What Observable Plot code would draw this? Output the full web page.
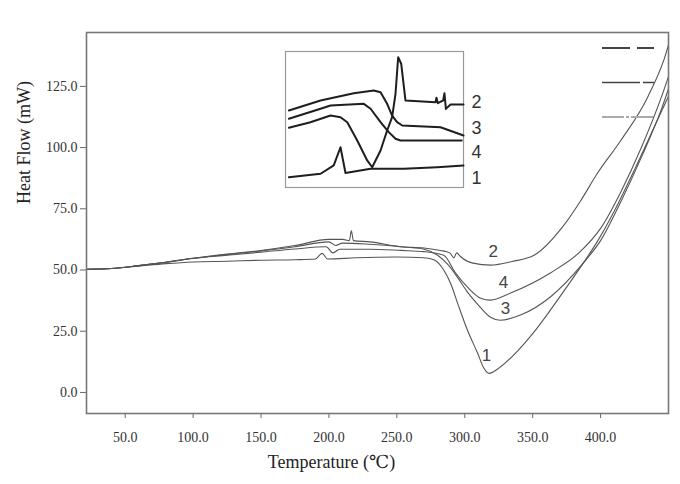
<!DOCTYPE html>
<html>
<head>
<meta charset="utf-8">
<script src="https://cdn.jsdelivr.net/npm/d3@7"></script>
<script src="https://cdn.jsdelivr.net/npm/@observablehq/plot@0.6"></script>
<style>
  body { margin: 0; background: #fff; }
  #wrap { position: relative; width: 680px; height: 484px; }
  #wrap > svg { position: absolute; }
</style>
</head>
<body>
<div id="wrap"></div>
<script>
// ---- Main DSC curves (Temperature °C, Heat Flow mW) ----
const curveNames = ["1", "2", "3", "4"];

const temp1 = [21.5, 40, 60, 80, 100, 125, 150, 175, 190, 195, 199, 220, 250, 270, 278, 284.5, 290, 294.7, 302, 309.5, 314, 318, 324, 339, 350, 363, 375, 387.5, 398, 410, 425, 440, 450];
const heat1 = [50.3, 50.6, 51.6, 52.6, 53.3, 53.6, 54, 54.2, 54.5, 56.8, 54.5, 55, 55.3, 55, 54, 50, 44, 36.5, 25.4, 16, 10, 7.8, 9.5, 17, 24, 33.6, 43, 53, 62, 74, 91, 109, 121];

const temp2 = [21.5, 40, 60, 80, 100, 125, 150, 175, 200, 210, 215, 216.5, 218, 230, 253, 270, 282, 289, 292, 294, 297, 306, 319, 335, 351, 372, 385, 398, 415, 435, 449, 450];
const heat2 = [50.3, 50.6, 51.8, 53.2, 54.8, 56.5, 58, 60, 62.5, 62.5, 62, 66, 62, 61.5, 59.5, 59, 58, 57, 55, 57, 55.4, 52.8, 52, 53.5, 56, 67.6, 78, 89.8, 103, 121, 140, 142];

const temp3 = [21.5, 40, 60, 80, 100, 125, 150, 175, 200, 205, 210, 230, 253, 270, 280, 288, 294.7, 302, 309.5, 319, 326, 341, 363, 387.5, 400, 415, 430, 445, 450];
const heat3 = [50.3, 50.6, 51.8, 53.2, 54.8, 56.3, 57.8, 59.5, 61.5, 60, 61, 60.5, 59.5, 58.5, 56, 52, 47, 41, 36, 30.7, 29.5, 31.6, 39, 53, 62, 78, 96, 116, 124];

const temp4 = [21.5, 40, 60, 80, 100, 125, 150, 175, 198, 203, 208, 230, 253, 270, 284.5, 293, 302, 311.6, 319, 333.7, 363, 385, 400, 415, 430, 445, 450];
const heat4 = [50.3, 50.6, 51.8, 53.2, 54.7, 56, 57.3, 58.6, 59.5, 57, 58.5, 58.5, 58, 57.5, 56, 49, 43, 38.5, 37.7, 40.6, 48.8, 57.5, 67, 82, 100, 121, 129];

// curve number labels in the main panel
const labelText = ["2", "4", "3", "1"];
const labelTemp = [321, 328.5, 330, 316];
const labelHeat = [57.4, 44.7, 34.4, 15.2];

// axis ticks
const xTicks = [50, 100, 150, 200, 250, 300, 350, 400];
const yTicks = [0, 25, 50, 75, 100, 125];

// ---- Inset (relative units 0-100) ----
const insetU1 = [1.9, 19.7, 27.1, 30.9, 33.7, 47.8, 66.5, 85.2, 100];
const insetV1 = [7.6, 10.1, 16.2, 29.6, 10.7, 13.8, 13.8, 14.9, 16.2];
const insetU2 = [1.9, 14, 25.3, 30.9, 34.7, 40.3, 45.9, 48.7, 53.4, 57.1, 59.9, 61.8, 63.3, 65, 67.4, 84.3, 84.8, 85.6, 88.6, 89.3, 90.1, 92.7, 100];
const insetV2 = [43.9, 48, 52.9, 51.7, 48, 34.6, 19.9, 14.9, 27.2, 41.9, 51.7, 68.9, 95.8, 91, 64, 62.7, 66, 62, 64, 69.3, 57.8, 61, 61];
const insetU3 = [1.9, 19.7, 38.4, 49.6, 53.4, 57.1, 59.9, 62.7, 65.6, 87.1, 100];
const insetV3 = [56.6, 64, 69.3, 71.3, 70.1, 61.5, 52.9, 48, 45.6, 44.3, 38.2];
const insetU4 = [1.9, 19.7, 25.3, 44, 47.8, 53.4, 58, 61.8, 64.6, 87.1, 99];
const insetV4 = [50.5, 57.9, 60.3, 61.5, 57.9, 48, 40.7, 35.8, 34.6, 34.6, 34.6];
const insetLabelText = ["2", "3", "4", "1"];
const insetLabelV = [62.5, 43.4, 25.7, 6.6];

// ---- build tables ----
const mainSeries = [[temp1, heat1], [temp2, heat2], [temp3, heat3], [temp4, heat4]];
const mainRows = mainSeries.flatMap(([T, H], i) => T.map((t, j) => ({curve: curveNames[i], T: t, H: H[j]})));
const labelRows = labelText.map((s, i) => ({s, T: labelTemp[i], H: labelHeat[i]}));

const insetSeries = [[insetU1, insetV1], [insetU2, insetV2], [insetU3, insetV3], [insetU4, insetV4]];
const insetRows = insetSeries.flatMap(([U, V], i) => U.map((u, j) => ({curve: curveNames[i], u, v: V[j]})));
const insetLabelRows = insetLabelText.map((s, i) => ({s, u: 107.3, v: insetLabelV[i]}));

const serif = "'Liberation Serif', 'DejaVu Serif', serif";
const sans = "'Liberation Sans', Arial, sans-serif";

const main = Plot.plot({
  width: 680, height: 484,
  marginLeft: 86, marginRight: 12, marginTop: 32, marginBottom: 71,
  x: {domain: [21.5, 450]},
  y: {domain: [-8.6, 147]},
  style: {fontFamily: serif, background: "white", color: "#333"},
  marks: [
    Plot.axisX({ticks: xTicks, tickFormat: d => d.toFixed(1), tickSize: 5, tickPadding: 14, label: null, fontSize: 14, stroke: "#666", style: "letter-spacing:1px"}),
    Plot.axisY({ticks: yTicks, tickFormat: d => d.toFixed(1), tickSize: 6, tickPadding: 3, label: null, fontSize: 14, stroke: "#666"}),
    Plot.line(mainRows, {x: "T", y: "H", z: "curve", stroke: "#555", strokeWidth: 1.1, curve: "monotone-x"}),
    Plot.text(labelRows, {x: "T", y: "H", text: "s", fontSize: 17, fontFamily: sans, fill: "#444"}),
    Plot.frame({stroke: "#777", strokeWidth: 1.6}),
    Plot.text(["Temperature (℃)"], {text: d => d, frameAnchor: "bottom", dx: -46, dy: 54, fontSize: 18, fill: "#222"}),
    Plot.text(["Heat Flow (mW)"], {text: d => d, frameAnchor: "left", dx: -62, dy: -19, rotate: -90, fontSize: 18, fill: "#222"})
  ]
});
main.style.left = "0px";
main.style.top = "0px";

const inset = Plot.plot({
  width: 216, height: 138,
  marginLeft: 1, marginTop: 1, marginBottom: 1, marginRight: 37,
  x: {domain: [0, 100], axis: null},
  y: {domain: [0, 100], axis: null},
  style: {background: "transparent", overflow: "visible"},
  marks: [
    Plot.frame({stroke: "#999", strokeWidth: 1.2, fill: "white"}),
    Plot.line(insetRows, {x: "u", y: "v", z: "curve", stroke: "#1e1e1e", strokeWidth: 2}),
    Plot.text(insetLabelRows, {x: "u", y: "v", text: "s", fontSize: 18, fontFamily: sans, fill: "#333"})
  ]
});
inset.style.left = "284px";
inset.style.top = "50px";

const wrap = document.getElementById("wrap");
wrap.appendChild(main);
wrap.appendChild(inset);

// legend key samples (top right)
const legendSvg = d3.create("svg").attr("width", 70).attr("height", 90)
  .style("left", "598px").style("top", "36px");
const keys = [
  {dash: "28,7", color: "#444", w: 1.8},
  {dash: "38,3,12", color: "#444", w: 1.6},
  {dash: "22,2,3,2,22", color: "#aaa", w: 1.8}
];
legendSvg.selectAll("line").data(keys).join("line")
  .attr("x1", 4).attr("x2", 56)
  .attr("y1", (d, i) => 12 + i * 34.5).attr("y2", (d, i) => 12 + i * 34.5)
  .attr("stroke", d => d.color).attr("stroke-width", d => d.w)
  .attr("stroke-dasharray", d => d.dash);
wrap.appendChild(legendSvg.node());
</script>
</body>
</html>
